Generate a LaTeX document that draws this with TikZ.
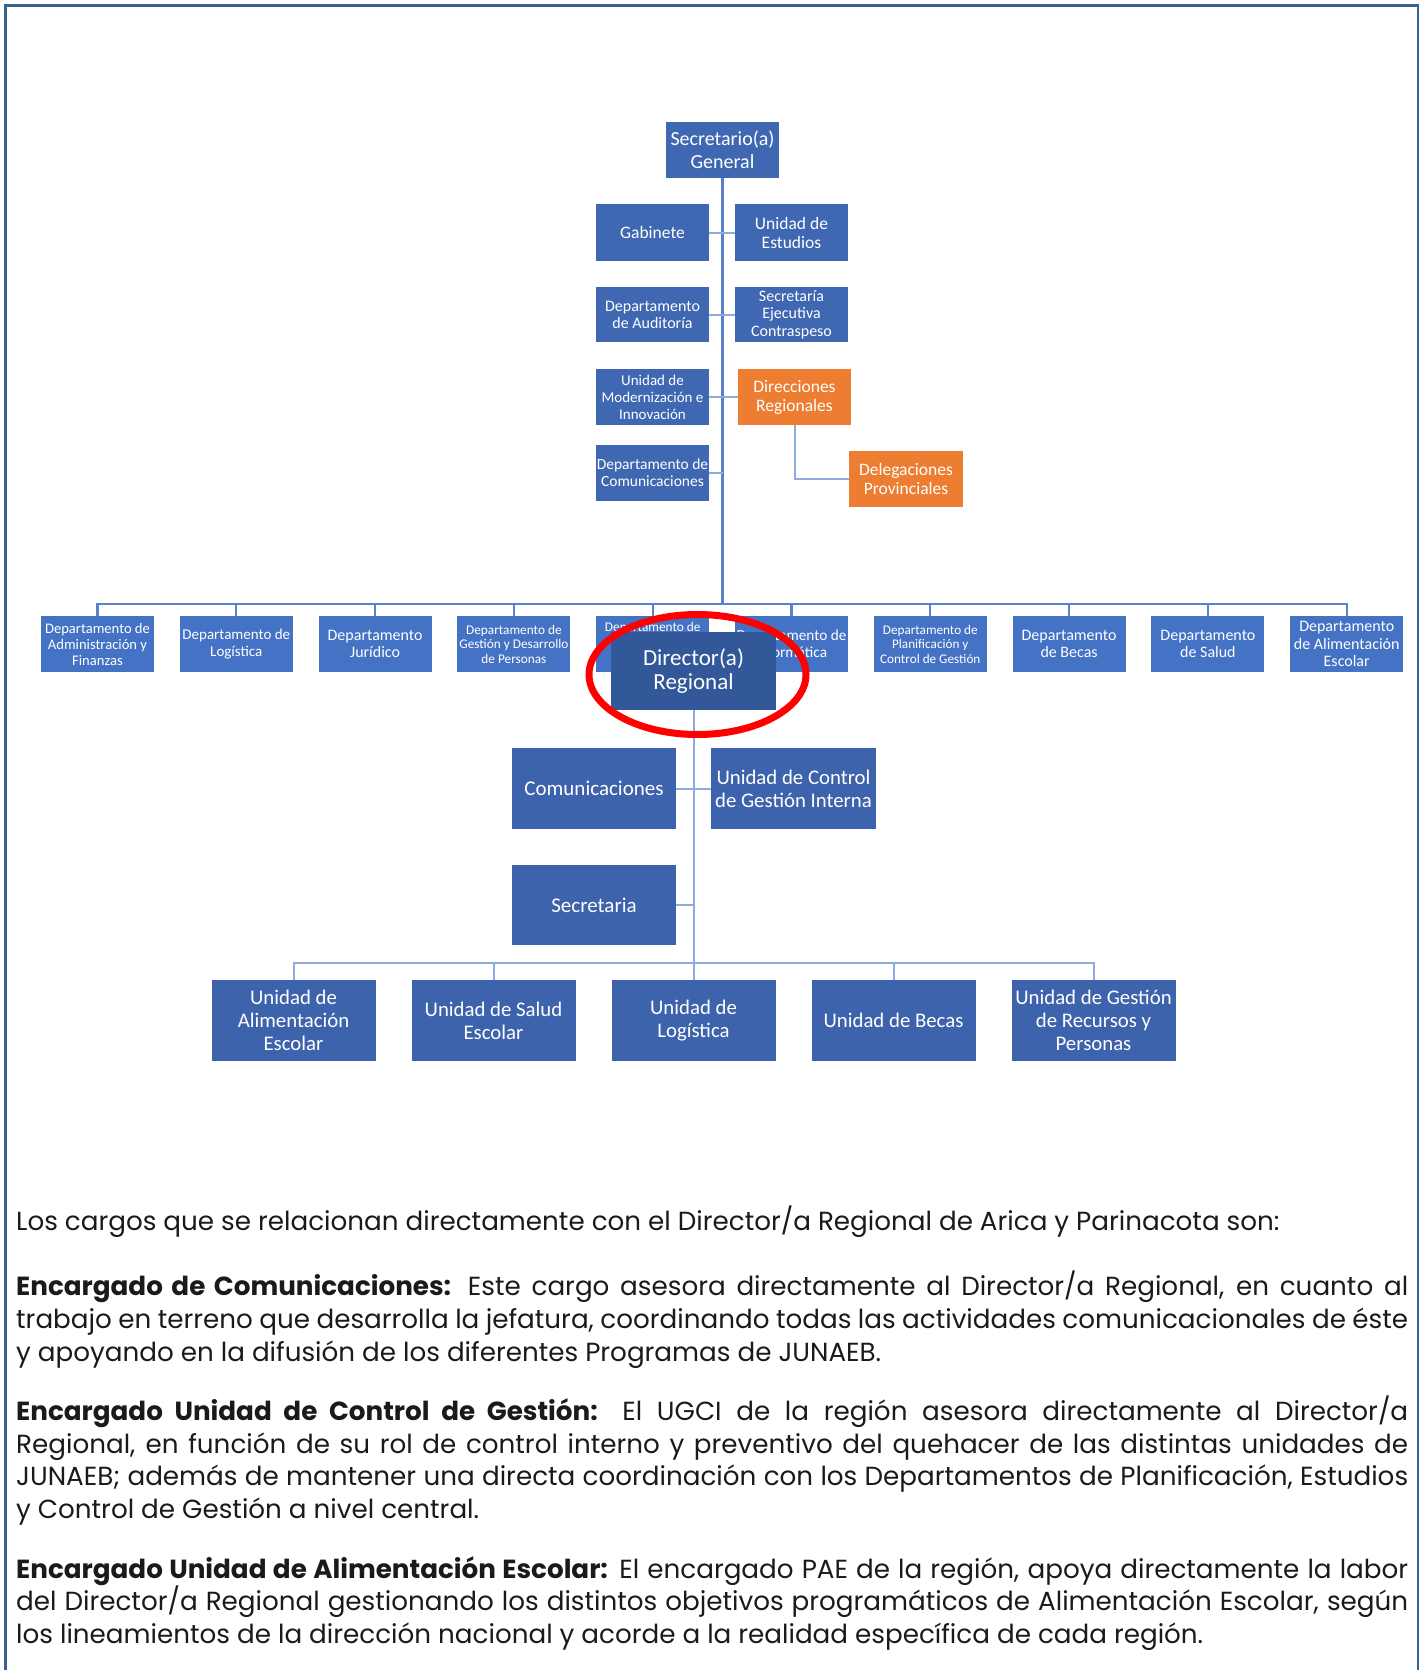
\documentclass[tikz,border=0pt]{standalone}
\usepackage{fontspec}
\setmainfont{Poppins}
\newfontfamily\boxfont{Carlito}
\definecolor{topblue}{HTML}{3F67B2}
\definecolor{rowblue}{HTML}{4472C4}
\definecolor{midblue}{HTML}{3E63AD}
\definecolor{dirblue}{HTML}{325899}
\definecolor{orgorange}{HTML}{ED7D31}
\definecolor{framecol}{HTML}{3A6291}
\definecolor{linedark}{HTML}{5A82CC}
\definecolor{linelight}{HTML}{8FAADC}
\definecolor{bodytext}{HTML}{1A1A1A}
\newcommand\setfs[2]{\fontsize{#1}{#2}\selectfont}
\begin{document}
\begin{tikzpicture}[x=1pt,y=-1pt,
  org/.style={rectangle, inner sep=0pt, text=white, align=center},
  topbox/.style={org, fill=topblue, minimum width=113pt, minimum height=56pt},
  orangebox/.style={org, fill=orgorange, minimum width=113pt, minimum height=56pt},
  rowbox/.style={org, fill=rowblue, minimum width=113pt, minimum height=56pt},
  midbox/.style={org, fill=midblue, minimum width=164pt, minimum height=81pt},
  dirbox/.style={org, fill=dirblue, minimum width=165pt, minimum height=78pt},
  trunkline/.style={draw=linedark, line width=2.2pt},
  branchline/.style={draw=linelight, line width=2pt},
  frameline/.style={draw=framecol, line width=2.8pt, line join=miter},
  bodyline/.style={anchor=base west, inner sep=0pt, text=bodytext, font=\setfs{26.2}{32}},
  ring/.style={draw=red, line width=7pt}
]
\useasboundingbox (0,0) rectangle (1421,1670);
\fill[white] (0,0) rectangle (1421,1670);
\draw[frameline] (5.3,1670) -- (5.3,5.3) -- (1418,5.3) -- (1418,1670);

% ---------- top section ----------
\coordinate (busy) at (0,604);
\node[topbox, font={\boxfont\setfs{20}{23}}] (sg) at (722.5,150) {Secretario(a)\\General};
\node[topbox, minimum height=57pt, font={\boxfont\setfs{17.5}{19}}] (gab) at (652.5,232.5) {Gabinete};
\node[topbox, minimum height=57pt, font={\boxfont\setfs{17.5}{19}}] (ue) at (791.5,232.5) {Unidad de\\Estudios};
\node[topbox, minimum height=55pt, font={\boxfont\setfs{16}{17}}] (aud) at (652.5,314.5) {Departamento\\de Auditoría};
\node[topbox, minimum height=55pt, font={\boxfont\setfs{16}{17.5}}] (sec) at (791.5,314.5) {Secretaría\\Ejecutiva\\Contraspeso};
\node[topbox, font={\boxfont\setfs{15}{17}}] (mod) at (652.5,397) {Unidad de\\Modernización e\\Innovación};
\node[orangebox, font={\boxfont\setfs{17.5}{19}}] (dr) at (794.5,397) {Direcciones\\Regionales};
\node[topbox, font={\boxfont\setfs{15.5}{16.7}}] (com) at (652.5,473) {Departamento de\\Comunicaciones};
\node[orangebox, minimum width=114pt, font={\boxfont\setfs{17.5}{19}}] (dp) at (906,479) {Delegaciones\\Provinciales};

\draw[trunkline] (sg.south) -- (sg.south |- busy);
\draw[branchline] (gab.east) -- (ue.west);
\draw[branchline] (aud.east) -- (sec.west);
\draw[branchline] (mod.east) -- (dr.west);
\draw[branchline] (com.east) -- (com.east -| sg.south);
\draw[branchline] (dr.south) |- (dp.west);

% ---------- department row ----------
\node[rowbox, font={\boxfont\setfs{14.6}{16}}] (d1) at (97.5,644) {Departamento de\\Administración y\\Finanzas};
\node[rowbox, font={\boxfont\setfs{15}{16.5}}] (d2) at (236.3,644) {Departamento de\\Logística};
\node[rowbox, font={\boxfont\setfs{16}{17}}] (d3) at (375.1,644) {Departamento\\Jurídico};
\node[rowbox, font={\boxfont\setfs{13.3}{14.5}}] (d4) at (513.9,644) {Departamento de\\Gestión y Desarrollo\\de Personas};
\node[rowbox, font={\boxfont\setfs{13.3}{14.5}}] (d5) at (652.7,644) {Departamento de\\\strut\\\strut};
\node[rowbox, font={\boxfont\setfs{15.3}{17}}] (d6) at (791.5,644) {Departamento de\\Informática};
\node[rowbox, font={\boxfont\setfs{13.2}{14.5}}] (d7) at (930.3,644) {Departamento de\\Planificación y\\Control de Gestión};
\node[rowbox, font={\boxfont\setfs{16}{17}}] (d8) at (1069.1,644) {Departamento\\de Becas};
\node[rowbox, font={\boxfont\setfs{16}{17}}] (d9) at (1207.9,644) {Departamento\\de Salud};
\node[rowbox, font={\boxfont\setfs{16}{17.5}}] (d10) at (1346.7,644) {Departamento\\de Alimentación\\Escolar};

\draw[trunkline] (d1.north) -- (d1.north |- busy) -- (d10.north |- busy) -- (d10.north);
\foreach \i in {2,...,9} \draw[trunkline] (d\i.north) -- (d\i.north |- busy);

% ---------- regional section ----------
\node[dirbox, font={\boxfont\setfs{23}{24}}] (dir) at (693.5,671) {Director(a)\\Regional};
\node[midbox, font={\boxfont\setfs{21}{23}}] (mc) at (594,788.5) {Comunicaciones};
\node[midbox, minimum width=165pt, font={\boxfont\setfs{20.8}{22.7}}] (ucg) at (793.5,788.5) {Unidad de Control\\de Gestión Interna};
\node[midbox, minimum height=80pt, font={\boxfont\setfs{21}{23}}] (ms) at (594,905) {Secretaria};

\coordinate (busz) at (0,963);
\node[midbox, font={\boxfont\setfs{20.8}{22.7}}] (u1) at (293.5,1020.5) {Unidad de\\Alimentación\\Escolar};
\node[midbox, font={\boxfont\setfs{20.8}{22.7}}] (u2) at (493.5,1020.5) {Unidad de Salud\\Escolar};
\node[midbox, font={\boxfont\setfs{20.8}{22.7}}] (u3) at (693.5,1020.5) {Unidad de\\Logística};
\node[midbox, font={\boxfont\setfs{20.8}{22.7}}] (u4) at (893.5,1020.5) {Unidad de Becas};
\node[midbox, font={\boxfont\setfs{20.8}{22.7}}] (u5) at (1093.5,1020.5) {Unidad de Gestión\\de Recursos y\\Personas};

\draw[branchline] (dir.south) -- (dir.south |- busz);
\draw[branchline] (mc.east) -- (ucg.west);
\draw[branchline] (ms.east) -- (ms.east -| dir.south);
\draw[branchline] (u1.north) -- (u1.north |- busz) -- (u5.north |- busz) -- (u5.north);
\foreach \i in {2,3,4} \draw[branchline] (u\i.north) -- (u\i.north |- busz);

\draw[ring] (697.5,674.5) ellipse [x radius=108.5pt, y radius=60pt];

% ---------- body text ----------
\node[bodyline] (t1) at (16,1230) {Los cargos que se relacionan directamente con el Director/a Regional de Arica y Parinacota son:};

\node[bodyline] (t2) at (16,1295) {\makebox[1392pt][s]{\textbf{Encargado de Comunicaciones:} Este cargo asesora directamente al Director/a Regional, en cuanto al}};
\node[bodyline] (t3) at (16,1328) {\makebox[1392pt][s]{trabajo en terreno que desarrolla la jefatura, coordinando todas las actividades comunicacionales de éste}};
\node[bodyline] (t4) at (16,1361) {y apoyando en la difusión de los diferentes Programas de JUNAEB.};

\node[bodyline] (t5) at (16,1420) {\makebox[1392pt][s]{\textbf{Encargado Unidad de Control de Gestión:} El UGCI de la región asesora directamente al Director/a}};
\node[bodyline] (t6) at (16,1453) {\makebox[1392pt][s]{Regional, en función de su rol de control interno y preventivo del quehacer de las distintas unidades de}};
\node[bodyline] (t7) at (16,1485) {\makebox[1392pt][s]{JUNAEB; además de mantener una directa coordinación con los Departamentos de Planificación, Estudios}};
\node[bodyline] (t8) at (16,1518) {y Control de Gestión a nivel central.};

\node[bodyline] (t9) at (16,1578) {\makebox[1392pt][s]{\textbf{Encargado Unidad de Alimentación Escolar:} El encargado PAE de la región, apoya directamente la labor}};
\node[bodyline] (t10) at (16,1610) {\makebox[1392pt][s]{del Director/a Regional gestionando los distintos objetivos programáticos de Alimentación Escolar, según}};
\node[bodyline] (t11) at (16,1643) {los lineamientos de la dirección nacional y acorde a la realidad específica de cada región.};
\end{tikzpicture}
\end{document}
